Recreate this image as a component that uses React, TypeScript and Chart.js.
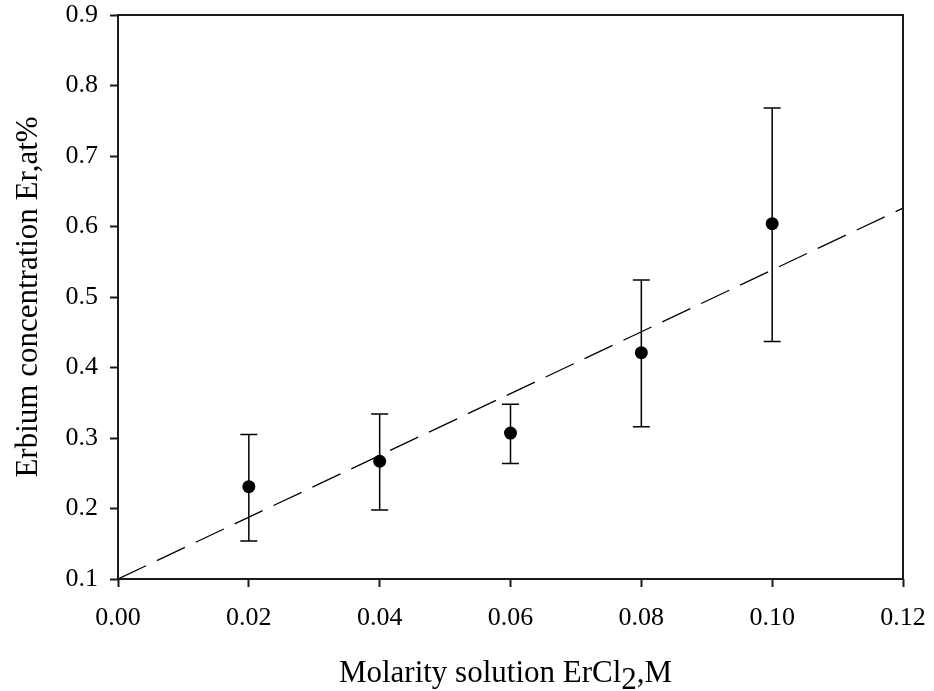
import React, { useEffect, useRef } from 'react';
import { Chart, registerables } from 'chart.js';

Chart.register(...registerables);

// ---- data ----
const molarity = [0.02, 0.04, 0.06, 0.08, 0.1];
const erbium = [0.231, 0.267, 0.307, 0.421, 0.604];
const errLow = [0.154, 0.198, 0.264, 0.316, 0.437];
const errHigh = [0.305, 0.334, 0.348, 0.524, 0.768];
const fitX = [0, 0.12];
const fitY = [0.1, 0.626];
const xTicks = [0, 0.02, 0.04, 0.06, 0.08, 0.1, 0.12];
const yTicks = [0.1, 0.2, 0.3, 0.4, 0.5, 0.6, 0.7, 0.8, 0.9];
const yTitle = 'Erbium concentration Er,at%';
const xTitleMain = 'Molarity solution ErCl';
const xTitleSub = '2';
const xTitleTail = ',M';

const FONT = '"Liberation Serif", "Times New Roman", serif';
const INK = '#1a1a1a';

const errorBarPlugin = {
  id: 'errorBars',
  beforeDatasetsDraw(chart: any) {
    const { ctx, scales } = chart;
    const xs = scales.x;
    const ys = scales.y;
    ctx.save();
    ctx.strokeStyle = '#000';
    ctx.lineWidth = 1.5;
    const cap = 8.5;
    molarity.forEach((m, i) => {
      const px = xs.getPixelForValue(m);
      const lo = ys.getPixelForValue(errLow[i]);
      const hi = ys.getPixelForValue(errHigh[i]);
      ctx.beginPath();
      ctx.moveTo(px, lo);
      ctx.lineTo(px, hi);
      ctx.moveTo(px - cap, lo);
      ctx.lineTo(px + cap, lo);
      ctx.moveTo(px - cap, hi);
      ctx.lineTo(px + cap, hi);
      ctx.stroke();
    });
    ctx.restore();
  },
};

const framePlugin = {
  id: 'frame',
  afterDraw(chart: any) {
    const { ctx, chartArea } = chart;
    const { left, right, top, bottom } = chartArea;
    ctx.save();
    ctx.strokeStyle = INK;
    ctx.lineWidth = 2;
    ctx.strokeRect(left, top, right - left, bottom - top);

    // x-axis title with subscript
    ctx.fillStyle = '#000';
    ctx.font = `31px ${FONT}`;
    ctx.textBaseline = 'alphabetic';
    ctx.textAlign = 'left';
    const w1 = ctx.measureText(xTitleMain).width;
    const w2 = ctx.measureText(xTitleSub).width;
    const w3 = ctx.measureText(xTitleTail).width;
    const total = w1 + w2 + w3;
    const cx = (left + right) / 2 - 5;
    const base = bottom + 103;
    let x = cx - total / 2;
    ctx.fillText(xTitleMain, x, base);
    x += w1;
    ctx.fillText(xTitleSub, x, base + 7);
    x += w2;
    ctx.fillText(xTitleTail, x, base);
    ctx.restore();
  },
};

export default function App() {
  const canvasRef = useRef<HTMLCanvasElement | null>(null);

  useEffect(() => {
    if (!canvasRef.current) return;
    const chart = new Chart(canvasRef.current, {
      type: 'scatter',
      data: {
        datasets: [
          {
            type: 'line',
            label: 'fit',
            data: fitX.map((x, i) => ({ x, y: fitY[i] })),
            borderColor: '#000',
            borderWidth: 1.3,
            borderDash: [31, 12],
            pointRadius: 0,
            fill: false,
            order: 2,
          } as any,
          {
            label: 'Er',
            data: molarity.map((x, i) => ({ x, y: erbium[i] })),
            backgroundColor: '#000',
            borderColor: '#000',
            borderWidth: 0,
            pointRadius: 6.5,
            pointHoverRadius: 6.5,
            order: 1,
          },
        ],
      },
      options: {
        animation: false,
        responsive: true,
        maintainAspectRatio: false,
        events: [],
        layout: { padding: { left: 0, top: 15, right: 31, bottom: 0 } },
        plugins: {
          legend: { display: false },
          tooltip: { enabled: false },
        },
        scales: {
          x: {
            type: 'linear',
            min: 0,
            max: 0.12,
            afterBuildTicks: (s: any) => {
              s.ticks = xTicks.map((v) => ({ value: v }));
            },
            afterFit: (s: any) => {
              s.height = 112;
              s.paddingLeft = 0;
              s.paddingRight = 0;
            },
            ticks: {
              autoSkip: false,
              maxRotation: 0,
              padding: 16,
              color: '#000',
              font: { family: FONT, size: 26 },
              callback: (v: any) => Number(v).toFixed(2),
            },
            grid: {
              drawOnChartArea: false,
              drawTicks: true,
              tickLength: 8,
              tickWidth: 2,
              tickColor: INK,
            },
            border: { display: false },
          },
          y: {
            type: 'linear',
            min: 0.1,
            max: 0.9,
            afterBuildTicks: (s: any) => {
              s.ticks = yTicks.map((v) => ({ value: v }));
            },
            afterFit: (s: any) => {
              s.width = 118;
              s.paddingTop = 0;
              s.paddingBottom = 0;
            },
            ticks: {
              autoSkip: false,
              padding: 12,
              color: '#000',
              font: { family: FONT, size: 26 },
              callback: (v: any) => Number(v).toFixed(1),
            },
            grid: {
              drawOnChartArea: false,
              drawTicks: true,
              tickLength: 8,
              tickWidth: 2,
              tickColor: INK,
            },
            border: { display: false },
            title: {
              display: true,
              text: yTitle,
              color: '#000',
              font: { family: FONT, size: 31, weight: 'normal' },
              padding: { top: 10, bottom: 0 },
            },
          },
        },
      },
      plugins: [errorBarPlugin, framePlugin],
    });
    return () => chart.destroy();
  }, []);

  return (
    <div style={{ position: 'fixed', left: 0, top: 0, width: 934, height: 691 }}>
      <canvas ref={canvasRef} />
    </div>
  );
}
